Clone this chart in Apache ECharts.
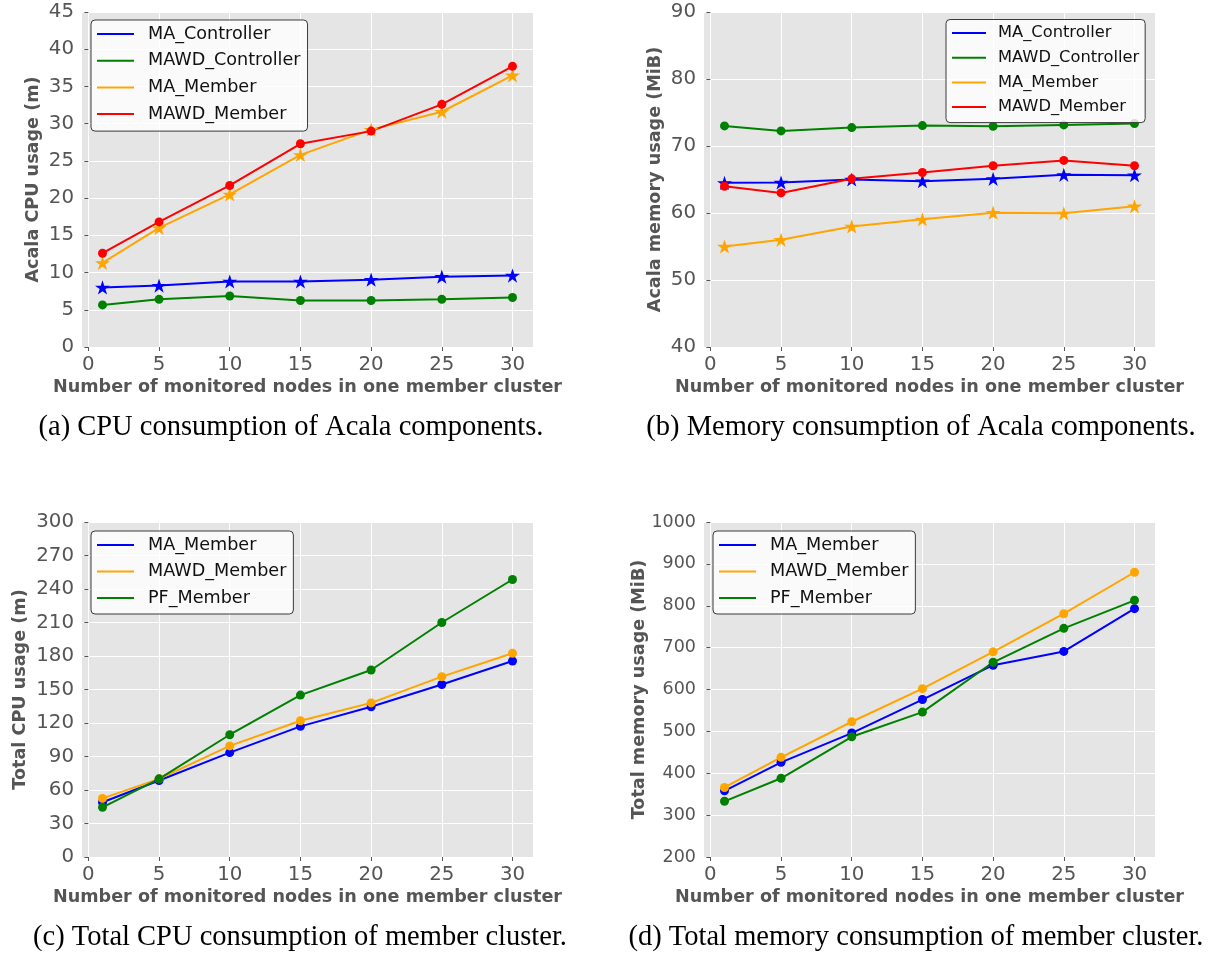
<!DOCTYPE html>
<html>
<head>
<meta charset="utf-8">
<script src="https://cdn.jsdelivr.net/npm/echarts@6/dist/echarts.min.js"></script>
<style>
html,body{margin:0;padding:0;background:#fff;}
#chart{width:1210px;height:953px;}
</style>
</head>
<body>
<div id="chart"></div>
<script>
// ---- data ----
const nodes = [1, 5, 10, 15, 20, 25, 30];
const xTicks = [0, 5, 10, 15, 20, 25, 30];

// (a) Acala CPU usage (m)
const cpuMAController   = [8.0, 8.25, 8.8, 8.8, 9.05, 9.45, 9.6];
const cpuMAWDController = [5.65, 6.4, 6.85, 6.25, 6.25, 6.4, 6.65];
const cpuMAMember       = [11.3, 16.0, 20.5, 25.8, 29.2, 31.6, 36.5];
const cpuMAWDMember     = [12.6, 16.8, 21.7, 27.3, 29.0, 32.6, 37.7];

// (b) Acala memory usage (MiB)
const memMAController   = [64.5, 64.55, 65.0, 64.75, 65.1, 65.7, 65.65];
const memMAWDController = [73.0, 72.25, 72.75, 73.05, 72.95, 73.15, 73.35];
const memMAMember       = [55.0, 56.0, 58.0, 59.05, 60.05, 59.95, 61.0];
const memMAWDMember     = [64.0, 63.0, 65.1, 66.05, 67.05, 67.85, 67.05];

// (c) Total CPU usage (m)
const totCpuMAMember   = [49, 68.5, 93.5, 117, 134.5, 154.5, 175.5];
const totCpuMAWDMember = [52.5, 70, 99.5, 122, 138, 161.5, 182.5];
const totCpuPFMember   = [44.5, 70, 109.5, 145, 167.5, 210, 248.5];

// (d) Total memory usage (MiB)
const totMemMAMember   = [358, 426, 496, 576, 658, 691, 793];
const totMemMAWDMember = [366, 438, 523, 602, 690, 781, 880];
const totMemPFMember   = [333, 388, 487, 546, 665, 746, 813];

const yTicksA = [0, 5, 10, 15, 20, 25, 30, 35, 40, 45];
const yTicksB = [40, 50, 60, 70, 80, 90];
const yTicksC = [0, 30, 60, 90, 120, 150, 180, 210, 240, 270, 300];
const yTicksD = [200, 300, 400, 500, 600, 700, 800, 900, 1000];

const xTitle = 'Number of monitored nodes in one member cluster';
const yTitles = ['Acala CPU usage (m)', 'Acala memory usage (MiB)', 'Total CPU usage (m)', 'Total memory usage (MiB)'];
const captions = [
  '(a) CPU consumption of Acala components.',
  '(b) Memory consumption of Acala components.',
  '(c) Total CPU consumption of member cluster.',
  '(d) Total memory consumption of member cluster.'
];

// ---- styling ----
const BLUE = '#0000ff', GREEN = '#008000', ORANGE = '#ffa500', RED = '#ff0000';
const STAR = 'path://M0,-1L0.2245,-0.309L0.951,-0.309L0.363,0.118L0.588,0.809L0,0.382L-0.588,0.809L-0.363,0.118L-0.951,-0.309L-0.2245,-0.309Z';
const FONT = 'DejaVu Sans';
const GRAY = '#555555';

const grids = [
  {left: 82, top: 12, width: 451, height: 335},
  {left: 704, top: 12, width: 451, height: 335},
  {left: 82, top: 522, width: 451, height: 335},
  {left: 704, top: 522, width: 451, height: 335}
].map(g => Object.assign(g, {show: true, backgroundColor: '#e5e5e5', borderWidth: 0, containLabel: false, outerBoundsMode: 'none'}));

const xAxes = [0, 1, 2, 3].map(i => ({
  type: 'value', gridIndex: i, min: -0.45, max: 31.45,
  name: xTitle, nameLocation: 'middle', nameGap: 31, nameMoveOverlap: false,
  nameTextStyle: {fontFamily: FONT, fontWeight: 'bold', fontSize: 17.6, color: GRAY},
  axisLine: {show: false},
  axisTick: {show: true, length: 4, lineStyle: {color: GRAY, width: 1}, customValues: xTicks},
  axisLabel: {fontFamily: FONT, fontSize: 19.8, color: GRAY, margin: 8, customValues: xTicks},
  splitLine: {show: true, lineStyle: {color: '#ffffff', width: 1}}
}));

const yRanges = [[yTicksA, 5], [yTicksB, 10], [yTicksC, 30], [yTicksD, 100]];
const yGaps = [40, 40, 53, 56];
const yLabelSizes = [19.8, 19.8, 19.8, 17.5];
const yAxes = yRanges.map(([t, step], i) => ({
  type: 'value', gridIndex: i, min: t[0], max: t[t.length - 1], interval: step,
  name: yTitles[i], nameLocation: 'middle', nameGap: yGaps[i], nameMoveOverlap: false,
  nameTextStyle: {fontFamily: FONT, fontWeight: 'bold', fontSize: 17.6, color: GRAY},
  axisLine: {show: false},
  axisTick: {show: true, length: 4, lineStyle: {color: GRAY, width: 1}},
  axisLabel: {fontFamily: FONT, fontSize: yLabelSizes[i], color: GRAY, margin: 8, showMinLabel: true, showMaxLabel: true,
    formatter: v => String(v)},
  splitLine: {show: true, lineStyle: {color: '#ffffff', width: 1}}
}));

function mkSeries(panel, name, values, color, symbol, gi) {
  const isStar = symbol === 'star';
  return {
    type: 'line', name: panel + '|' + name,
    xAxisIndex: gi, yAxisIndex: gi,
    data: nodes.map((x, k) => [x, values[k]]),
    symbol: isStar ? STAR : 'circle',
    symbolSize: isStar ? [15, 14.2] : 9,
    showAllSymbol: true,
    lineStyle: {color: color, width: 2},
    itemStyle: {color: color, borderWidth: 0},
    emphasis: {disabled: true},
    animation: false
  };
}

const series = [
  mkSeries('a', 'MA_Controller', cpuMAController, BLUE, 'star', 0),
  mkSeries('a', 'MAWD_Controller', cpuMAWDController, GREEN, 'circle', 0),
  mkSeries('a', 'MA_Member', cpuMAMember, ORANGE, 'star', 0),
  mkSeries('a', 'MAWD_Member', cpuMAWDMember, RED, 'circle', 0),
  mkSeries('b', 'MA_Controller', memMAController, BLUE, 'star', 1),
  mkSeries('b', 'MAWD_Controller', memMAWDController, GREEN, 'circle', 1),
  mkSeries('b', 'MA_Member', memMAMember, ORANGE, 'star', 1),
  mkSeries('b', 'MAWD_Member', memMAWDMember, RED, 'circle', 1),
  mkSeries('c', 'MA_Member', totCpuMAMember, BLUE, 'circle', 2),
  mkSeries('c', 'MAWD_Member', totCpuMAWDMember, ORANGE, 'circle', 2),
  mkSeries('c', 'PF_Member', totCpuPFMember, GREEN, 'circle', 2),
  mkSeries('d', 'MA_Member', totMemMAMember, BLUE, 'circle', 3),
  mkSeries('d', 'MAWD_Member', totMemMAWDMember, ORANGE, 'circle', 3),
  mkSeries('d', 'PF_Member', totMemPFMember, GREEN, 'circle', 3)
];

function mkLegend(panel, left, top, fontSize, lineLen, itemW, lineH, gap, pad) {
  return {
    show: true, orient: 'vertical', left: left, top: top,
    data: series.filter(s => s.name.startsWith(panel + '|')).map(s => s.name),
    formatter: n => n.split('|')[1],
    icon: 'path://M0,0L' + lineLen + ',0L' + lineLen + ',2L0,2ZM' + itemW + ',0L' + itemW + ',2Z',
    itemWidth: itemW, itemHeight: 2, itemGap: gap,
    padding: pad,
    backgroundColor: 'rgba(255,255,255,0.8)',
    borderColor: '#3a3a3a', borderWidth: 1, borderRadius: 4,
    selectedMode: false,
    textStyle: {fontFamily: FONT, fontSize: fontSize, color: '#111111', lineHeight: lineH}
  };
}

const legends = [
  mkLegend('a', 91, 20, 17.6, 37, 46, 20, 6.7, [4, 7, 7, 6]),
  mkLegend('b', 946, 19.5, 16.3, 34, 41, 19, 5.7, [4, 6, 6, 6]),
  mkLegend('c', 91, 531, 17.6, 37, 46, 20, 6.5, [4, 7, 6, 6]),
  mkLegend('d', 713, 531, 17.6, 37, 46, 20, 6.5, [4, 7, 6, 6])
];

const capPos = [[291, 428], [921, 428], [300, 938], [916, 938]];
const graphics = captions.map((t, i) => ({
  type: 'text', x: capPos[i][0], y: capPos[i][1],
  style: {text: t, font: '28.5px "Liberation Serif"', fill: '#000', textAlign: 'center', textVerticalAlign: 'middle'}
}));

const chart = echarts.init(document.getElementById('chart'), null, {renderer: 'canvas', width: 1210, height: 953});
chart.setOption({
  animation: false,
  backgroundColor: '#ffffff',
  grid: grids,
  xAxis: xAxes,
  yAxis: yAxes,
  legend: legends,
  series: series,
  graphic: graphics
});
</script>
</body>
</html>
